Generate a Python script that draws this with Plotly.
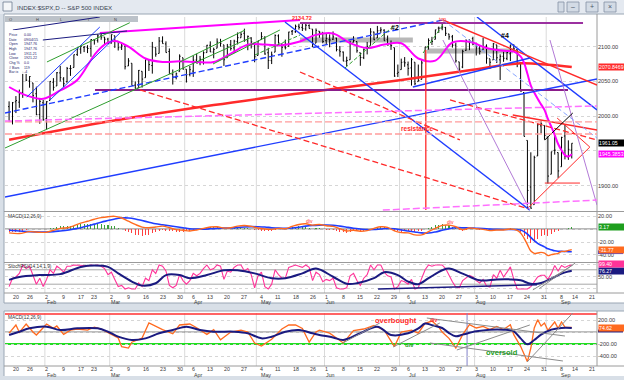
import plotly.graph_objects as go

# ======================= DATA =======================
trade_days = {
    1: [15, 16, 20, 21, 22, 23, 26, 27, 28, 29, 30],
    2: [2, 3, 4, 5, 6, 9, 10, 11, 12, 13, 17, 18, 19, 20, 23, 24, 25, 26, 27],
    3: [2, 3, 4, 5, 6, 9, 10, 11, 12, 13, 16, 17, 18, 19, 20, 23, 24, 25, 26, 27, 30, 31],
    4: [1, 2, 6, 7, 8, 9, 10, 13, 14, 15, 16, 17, 20, 21, 22, 23, 24, 27, 28, 29, 30],
    5: [1, 4, 5, 6, 7, 8, 11, 12, 13, 14, 15, 18, 19, 20, 21, 22, 26, 27, 28, 29],
    6: [1, 2, 3, 4, 5, 8, 9, 10, 11, 12, 15, 16, 17, 18, 19, 22, 23, 24, 25, 26, 29, 30],
    7: [1, 2, 6, 7, 8, 9, 10, 13, 14, 15, 16, 17, 20, 21, 22, 23, 24, 27, 28, 29, 30, 31],
    8: [3, 4, 5, 6, 7, 10, 11, 12, 13, 14, 17, 18, 19, 20, 21, 24, 25, 26, 27, 28, 31],
    9: [1, 2, 3, 4, 8, 9, 10, 11],
}
future_sep_days = [14, 15, 16, 17, 18, 21]

opens = [2013.75, 1992.25, 2020.76, 2020.19, 2034.30, 2062.98, 2050.42, 2047.86, 2032.34, 2002.45, 2019.35,
         1996.67, 2022.71, 2048.86, 2043.45, 2062.28, 2053.47, 2049.38, 2068.55, 2069.98, 2088.78, 2096.47, 2099.16, 2099.25, 2097.65, 2109.83, 2109.10, 2115.30, 2113.91, 2110.88,
         2105.23, 2115.76, 2107.72, 2098.54, 2100.91, 2072.25, 2076.14, 2044.69, 2041.10, 2064.56, 2055.35, 2080.59, 2072.84, 2098.69, 2090.32, 2107.99, 2103.94, 2093.10, 2059.94, 2055.78, 2064.11, 2084.05,
         2067.63, 2060.03, 2064.87, 2080.79, 2076.94, 2081.29, 2091.51, 2102.03, 2092.28, 2097.82, 2105.96, 2102.58, 2084.11, 2102.82, 2098.27, 2107.21, 2112.80, 2119.29, 2108.35, 2112.49, 2105.52,
         2087.38, 2110.23, 2112.63, 2091.26, 2079.96, 2092.13, 2115.56, 2102.87, 2099.62, 2100.43, 2122.07, 2121.30, 2129.45, 2127.79, 2125.55, 2130.36, 2125.34, 2105.13, 2122.27, 2120.66,
         2108.64, 2110.41, 2110.64, 2112.35, 2095.09, 2092.34, 2079.07, 2081.12, 2106.24, 2107.43, 2091.34, 2084.26, 2097.40, 2101.58, 2121.06, 2112.50, 2123.16, 2123.65, 2109.96, 2102.62, 2098.63, 2061.19,
         2067.00, 2078.03, 2073.95, 2069.52, 2077.66, 2049.73, 2052.74, 2080.03, 2099.72, 2109.21, 2110.55, 2126.80, 2126.85, 2127.55, 2118.21, 2114.16, 2102.24, 2078.19, 2070.75, 2094.70, 2106.78, 2111.60,
         2104.49, 2097.68, 2095.27, 2100.75, 2082.61, 2080.98, 2102.66, 2081.10, 2086.19, 2083.15, 2089.70, 2101.99, 2095.69, 2076.61, 2034.08, 1965.15, 1898.08, 1872.75, 1942.77, 1986.06, 1986.73,
         1970.09, 1916.52, 1950.79, 1947.76, 1927.30, 1971.45, 1941.59, 1951.45]
highs = [2021.35, 2020.46, 2028.94, 2038.29, 2064.62, 2062.98, 2057.62, 2047.86, 2042.49, 2024.64, 2023.32,
         2021.66, 2050.30, 2054.74, 2063.55, 2072.40, 2056.16, 2070.86, 2073.48, 2088.53, 2097.03, 2101.30, 2100.23, 2102.13, 2110.61, 2110.05, 2117.94, 2119.59, 2113.91, 2112.74,
         2117.52, 2115.76, 2107.72, 2104.25, 2100.91, 2083.49, 2076.14, 2050.08, 2066.41, 2064.56, 2081.41, 2080.59, 2106.85, 2098.69, 2113.92, 2114.86, 2107.63, 2097.43, 2067.15, 2062.83, 2088.97, 2084.05,
         2067.63, 2072.17, 2086.99, 2089.81, 2086.69, 2093.31, 2102.61, 2107.65, 2098.62, 2111.91, 2111.30, 2102.58, 2103.94, 2109.64, 2109.98, 2120.49, 2120.92, 2125.92, 2116.04, 2113.65, 2105.52,
         2108.41, 2120.95, 2115.24, 2098.42, 2092.90, 2117.66, 2117.69, 2105.06, 2110.19, 2121.45, 2123.89, 2131.78, 2133.02, 2134.72, 2134.28, 2132.15, 2125.34, 2126.22, 2122.27, 2120.66,
         2119.15, 2117.59, 2121.92, 2112.89, 2100.99, 2093.01, 2085.62, 2108.50, 2115.02, 2107.43, 2091.34, 2097.40, 2106.79, 2126.65, 2121.64, 2129.87, 2128.03, 2125.10, 2116.04, 2108.92, 2098.63, 2074.28,
         2082.78, 2085.06, 2078.61, 2083.74, 2077.66, 2074.28, 2081.31, 2099.88, 2111.98, 2114.14, 2124.42, 2128.91, 2132.82, 2128.49, 2118.51, 2116.87, 2106.01, 2078.19, 2095.60, 2110.60, 2110.48, 2114.24,
         2105.70, 2102.51, 2112.66, 2103.32, 2082.61, 2105.35, 2102.66, 2089.06, 2092.93, 2092.45, 2102.87, 2103.47, 2096.17, 2076.61, 2034.08, 1965.15, 1948.04, 1943.09, 1989.60, 1993.48, 1986.73,
         1970.09, 1948.91, 1975.01, 1947.76, 1970.42, 1988.63, 1965.29, 1961.05]
lows = [1991.47, 1988.12, 2004.49, 2012.04, 2026.38, 2050.54, 2040.97, 2019.91, 2001.49, 1989.18, 1993.38,
        1980.90, 2022.71, 2036.72, 2043.45, 2049.97, 2041.88, 2048.62, 2057.99, 2069.98, 2086.70, 2089.80, 2092.15, 2090.79, 2085.44, 2103.00, 2105.87, 2109.89, 2103.76, 2103.75,
        2104.50, 2098.26, 2094.49, 2095.22, 2067.27, 2072.21, 2044.16, 2039.69, 2041.10, 2041.17, 2055.35, 2065.08, 2061.23, 2085.56, 2090.32, 2104.42, 2091.50, 2061.05, 2045.50, 2052.96, 2064.11, 2067.04,
        2048.38, 2057.32, 2056.52, 2076.10, 2073.30, 2074.29, 2091.51, 2092.33, 2083.24, 2097.82, 2100.02, 2072.37, 2084.11, 2094.38, 2091.05, 2103.19, 2112.80, 2107.04, 2094.89, 2097.41, 2077.59,
        2087.38, 2110.23, 2088.46, 2067.93, 2074.99, 2092.13, 2104.58, 2085.57, 2096.04, 2100.43, 2116.81, 2120.01, 2124.50, 2122.59, 2122.95, 2126.06, 2099.18, 2105.13, 2112.86, 2104.89,
        2102.54, 2099.14, 2109.61, 2093.23, 2085.67, 2079.11, 2072.14, 2081.12, 2106.24, 2091.33, 2072.49, 2082.10, 2088.86, 2101.58, 2109.45, 2112.50, 2119.89, 2108.58, 2101.78, 2095.38, 2056.64, 2056.32,
        2067.00, 2071.02, 2058.40, 2044.02, 2044.66, 2049.73, 2052.74, 2080.03, 2095.78, 2102.49, 2110.55, 2119.88, 2123.66, 2115.40, 2110.00, 2098.63, 2077.09, 2063.52, 2069.09, 2094.08, 2094.97, 2102.07,
        2087.31, 2088.60, 2095.27, 2075.53, 2067.91, 2080.98, 2076.49, 2052.09, 2078.26, 2080.61, 2079.30, 2094.14, 2070.53, 2035.73, 1970.89, 1867.01, 1867.08, 1872.75, 1942.77, 1975.19, 1965.98,
        1903.07, 1916.52, 1944.72, 1911.21, 1927.30, 1937.88, 1937.19, 1939.19]
closes = [1992.67, 2019.42, 2022.55, 2032.12, 2063.15, 2051.82, 2057.09, 2029.55, 2002.16, 2021.25, 1994.99,
          2020.85, 2050.03, 2041.51, 2062.52, 2055.47, 2046.74, 2068.59, 2068.53, 2088.48, 2096.99, 2100.34, 2099.68, 2097.45, 2110.30, 2109.66, 2115.48, 2113.86, 2110.74, 2104.50,
          2117.39, 2107.78, 2098.53, 2101.04, 2071.26, 2079.43, 2044.16, 2040.24, 2065.95, 2053.40, 2081.19, 2074.28, 2099.50, 2089.27, 2108.10, 2104.42, 2091.50, 2061.05, 2056.15, 2061.02, 2086.24, 2067.89,
          2059.69, 2066.96, 2080.62, 2076.33, 2081.90, 2091.18, 2102.06, 2092.43, 2095.84, 2106.63, 2104.99, 2081.18, 2100.40, 2097.29, 2107.96, 2112.93, 2117.69, 2108.92, 2114.76, 2106.85, 2085.51,
          2108.29, 2114.49, 2089.46, 2080.15, 2088.00, 2116.10, 2105.33, 2099.12, 2098.48, 2121.10, 2122.73, 2129.20, 2127.83, 2125.85, 2130.82, 2126.06, 2104.20, 2123.48, 2120.79, 2107.39,
          2111.73, 2109.60, 2114.07, 2095.84, 2092.83, 2079.28, 2080.15, 2105.20, 2108.86, 2094.11, 2084.43, 2096.29, 2100.44, 2121.24, 2109.99, 2122.85, 2124.20, 2108.58, 2102.31, 2101.49, 2057.64, 2063.11,
          2077.42, 2076.78, 2068.76, 2081.34, 2046.68, 2051.31, 2076.62, 2099.60, 2108.95, 2107.40, 2124.29, 2126.64, 2128.28, 2119.21, 2114.15, 2102.15, 2079.65, 2067.64, 2093.25, 2108.57, 2108.63, 2103.84,
          2098.04, 2093.32, 2099.84, 2083.56, 2077.57, 2104.18, 2084.07, 2086.05, 2083.39, 2091.54, 2102.44, 2096.92, 2079.61, 2035.73, 1970.89, 1893.21, 1867.61, 1940.51, 1987.66, 1988.87, 1972.18,
          1913.85, 1948.86, 1951.13, 1921.22, 1969.41, 1942.04, 1952.29, 1961.05]

# magenta moving average and red long moving average
ma_fast_pos = [0, 5, 10, 15, 20, 25, 28, 31, 35, 40, 45, 50, 55, 60, 65, 70, 75, 80, 85, 90, 95, 100, 105, 110, 115, 120, 125, 130, 135, 140,
               145, 148, 150, 151, 152, 153, 154, 155, 156, 157, 158, 159, 160, 161, 162, 163, 164, 165]
ma_fast_val = [2042, 2030, 2025, 2037, 2052, 2088, 2103, 2108, 2100, 2083, 2078, 2079, 2078, 2078, 2090, 2103, 2103, 2102, 2107, 2117,
               2119, 2105, 2098, 2103, 2105, 2083, 2080, 2106, 2107, 2098, 2094, 2093, 2086, 2077, 2061, 2044, 2034, 2025, 2017, 2009,
               1996, 1985, 1973, 1960, 1951, 1944, 1942, 1945.39]
ma_slow_pos = [0, 30, 60, 90, 115, 135, 150, 158, 165]
ma_slow_val = [1966, 1993, 2016, 2036, 2052, 2066, 2076, 2074, 2070.85]

# MACD(12,26,9) panel
macd_pos = [0, 3, 6, 9, 11, 13, 15, 17, 19, 21, 23, 25, 27, 29, 31, 33, 35, 37, 39, 41, 43, 45, 47, 49, 51, 53, 55, 57, 59, 61, 63, 65, 67, 69, 71,
            73, 75, 77, 79, 81, 83, 85, 87, 89, 91, 93, 95, 97, 99, 101, 103, 105, 107, 109, 111, 113, 115, 117, 119, 121, 123, 125, 127, 129, 131,
            133, 135, 137, 139, 141, 143, 145, 147, 149, 150, 151, 152, 153, 154, 155, 156, 157, 158, 159, 160, 161, 162, 163, 164, 165]
macd_val = [-6, -7, -4, -5, -5, -2, 1, 2, 5, 9, 12, 15, 17.5, 19, 19.5, 17, 12, 7, 3, 2, 3, 4.5, 2, -1, -2, -3, -1.5, 1, 3, 3.5, 1.5, 2, 4.5, 5.5, 4,
            1.5, 0, -0.5, 1, 0.5, 4, 7, 8, 6, 7, 5, 4, 0.5, -3, -2, -3.5, -2.5, 1, 3.5, 2.5, -3, -5.5, -6, -9, -9, -4, 1, 5.5, 6, 3.5,
            -1, 1.5, 0.5, -0.5, -2.5, -1.5, -1.5, 0, -2, -6, -14, -24, -34, -37.5, -37, -36, -37, -41, -39.5, -38.5, -37.5, -34.5, -34.5, -33, -31.77]
signal_val = [-2, -3, -4, -4.5, -4.6, -4, -3, -2, 0, 2, 4.5, 7.5, 10.5, 13, 15.5, 17, 17, 15.5, 13, 10.5, 8, 6.5, 5, 3.5, 2, 0.5, 0, -0.2, 0.3, 1, 1.5, 1.6, 2.3, 3.2, 3.7,
              3.5, 3, 2, 1.3, 1, 1.5, 2.8, 4.5, 5.5, 6, 6.2, 5.8, 4.5, 2.8, 1.2, 0, -1, -0.8, 0, 0.8, 0.3, -1.5, -3, -4.5, -6, -6.2, -4.5, -2, 0.5, 2,
              2, 1.5, 1.2, 0.8, 0, -0.5, -0.8, -0.8, -1, -1.5, -4, -8, -13, -18, -22, -25, -27.5, -30.5, -32, -33.5, -34.3, -34.4, -34.6, -34.8, -34.94]
macd_hist = [-4, -4, -4, -4, -2.7, -1.3, 0, -0.2, -0.3, -0.5,
             -0.5, -0.4, 0.8, 2, 3, 4, 4, 4, 4.5, 5,
             6, 7, 7.2, 7.5, 7.5, 7.5, 7.2, 7, 6.5, 6,
             5, 4, 2, 0, -2.5, -5, -6.8, -8.5, -9.3, -10,
             -9.3, -8.5, -6.8, -5, -3.5, -2, -2.5, -3, -3.8, -4.5,
             -4.3, -4, -3.8, -3.5, -2.5, -1.5, 0, 1.2, 2, 2.7,
             2.6, 2.5, 1.2, 0, 0.2, 0.4, 1.3, 2.2, 2.3, 2.3,
             1.3, 0.3, -0.8, -2, -2.5, -3, -2.8, -2.5, -1.4, -0.3,
             -0.4, -0.5, 1, 2.5, 3.4, 4.2, 3.8, 3.5, 2, 0.5,
             0.8, 1, 0, -1.2, -1.5, -1.8, -2.9, -4, -4.9, -5.8,
             -4.5, -3.2, -3.3, -3.5, -2.5, -1.5, 0.2, 1.8, 2.6, 3.5,
             2.6, 1.7, -0.8, -3.3, -3.7, -4, -3.5, -3, -3.8, -4.5,
             -3.8, -3, -0.4, 2.2, 3.8, 5.5, 6.5, 7.5, 6.5, 5.5,
             3.5, 1.5, -0.8, -3, -1.5, 0, -0.4, -0.7, -1, -1.3,
             -1.9, -2.5, -1.8, -1, -0.9, -0.7, 0, 0.8, -0.1, -1,
             -4.5, -10, -16, -21, -19.5, -15, -11, -9.5, -10.5, -7.5,
             -5, -3.2, -0.5, 0.4, 1.8, 3.17]

# StochRSI(14,14,1,9) panel
stoch_k = [10, 45, 50, 65, 100, 85, 95, 60, 20, 45,
           10, 40, 80, 65, 95, 85, 70, 95, 95, 100,
           100, 100, 98, 95, 100, 98, 100, 95, 85, 60,
           70, 40, 10, 15, 0, 5, 0, 0, 25, 10,
           45, 35, 80, 65, 100, 95, 75, 15, 5, 15,
           60, 35, 20, 35, 65, 55, 65, 85, 100, 80,
           85, 100, 95, 40, 75, 70, 90, 100, 100, 75,
           85, 60, 5, 55, 70, 10, 0, 20, 80, 60,
           45, 45, 90, 95, 100, 95, 90, 100, 90, 35,
           70, 60, 30, 40, 35, 45, 5, 0, 0, 5,
           55, 65, 35, 15, 45, 60, 100, 80, 100, 100,
           70, 55, 50, 0, 10, 35, 30, 20, 40, 0,
           5, 45, 80, 100, 95, 100, 100, 100, 85, 57,
           30, 8, 5, 35, 45, 57, 50, 35, 25, 40,
           12, 8, 60, 45, 78, 50, 70, 92, 40, 0,
           0, 0, 0, 10, 30, 50, 57, 57, 40, 64,
           98, 75, 98, 90, 97, 99.4]
stoch_d_pos = [0, 3, 9, 15, 21, 25, 29, 32, 36, 39, 43, 46, 50, 53, 58, 63, 67, 72, 77, 81, 86, 90, 95, 99, 102, 107,
               110, 114, 117, 120, 123, 127, 129, 133, 138, 143, 147, 150, 153, 156, 159, 162, 164, 165]
stoch_d_val = [38, 50, 58, 62, 92, 98, 92, 65, 31, 14, 24, 58, 58, 45, 58, 78, 78, 65, 45, 45, 65, 85, 51, 22, 24, 45,
               70, 58, 31, 20, 45, 78, 85, 64, 36, 40, 40, 36, 22, 25, 43, 64, 73, 76.27]

# lower window oscillator
osc_pos = [0, 2, 3, 5, 7, 8, 10, 11, 13, 14, 16, 18, 20, 23, 25, 27, 30, 32, 33, 35, 36, 39, 41, 43, 45, 48, 50, 53, 55, 58,
           60, 62, 65, 68, 70, 72, 74, 77, 79, 80, 82, 84, 86, 88, 90, 91, 94, 98, 101, 104, 107, 110, 113, 115, 118, 120,
           122, 124, 126, 127, 129, 131, 133, 135, 137, 139, 141, 143, 145, 147, 148, 150, 152, 153, 154, 155, 156, 157,
           158, 160, 161, 162, 163, 165]
osc_val = [-20, 117, -5, 133, 0, -50, 70, 133, 60, 100, -40, 30, 50, 30, 80, 50, -40, -100, -244, -267, -170, -100, 150, 90,
           40, -30, 117, 133, 70, -40, 40, -130, 0, 30, 0, -183, -233, -120, 0, 50, 117, 117, 60, -170, 0, 30, -20, -183, 22,
           50, 111, 30, -244, 0, 30, -20, 144, 183, 83, 0, -106, -267, -44, 122, 67, 94, 40, 94, 40, 122, -44, -239, -494,
           -267, 67, 206, 100, 150, 28, 167, 60, 167, 80, 74.62]
osc_sig_pos = [0, 3, 6, 11, 15, 20, 26, 29, 32, 36, 40, 44, 48, 52, 56, 60, 66, 70, 74, 77, 81, 85, 89, 91, 95, 98, 103, 108,
               112, 117, 120, 122, 124, 127, 129, 131, 133, 137, 141, 145, 148, 150, 152, 154, 156, 159, 162, 165]
osc_sig_val = [-50, 5, 61, 89, 33, 61, 61, 5, -78, -133, -106, -22, 33, 89, 33, 5, 5, -22, -106, -78, 5, 33, -22, -50, -90,
               -133, -20, 89, -50, -22, 60, 140, 115, 67, -17, -72, -44, 11, 39, 39, 11, -106, -206, -133, -44, 39, 67, 67]

# date axis labels
tick_dates = ['2015-01-20', '2015-01-26', '2015-02-02', '2015-02-09', '2015-02-17', '2015-02-23', '2015-03-02', '2015-03-09',
              '2015-03-16', '2015-03-23', '2015-03-30', '2015-04-06', '2015-04-13', '2015-04-20', '2015-04-27', '2015-05-04',
              '2015-05-11', '2015-05-18', '2015-05-26', '2015-06-01', '2015-06-08', '2015-06-15', '2015-06-22', '2015-06-29',
              '2015-07-06', '2015-07-13', '2015-07-20', '2015-07-27', '2015-08-03', '2015-08-10', '2015-08-17', '2015-08-24',
              '2015-08-31', '2015-09-08', '2015-09-14', '2015-09-21']
month_label_dates = ['2015-02-02', '2015-03-02', '2015-04-06', '2015-05-04', '2015-06-01', '2015-07-06', '2015-08-03', '2015-09-08']
month_names = ['Feb', 'Mar', 'Apr', 'May', 'Jun', 'Jul', 'Aug', 'Sep']
month_first_dates = ['2015-02-02', '2015-03-02', '2015-04-01', '2015-05-01', '2015-06-01', '2015-07-01', '2015-08-03', '2015-09-01']

price_ticks = [1900, 1950, 2000, 2050, 2100]
macd_ticks = [-40, -20, 0, 20]
stoch_ticks = [0, 50, 100]
osc_ticks = [-400, -200, 0, 200]
hidden_ticks = [1950, 0, 100]   # covered by the value boxes on the axis

# analyst drawn lines: [pos0, value0, pos1, value1]
price_lines = [
    [26.6, 2119.7, 85.3, 2138.4], [85.3, 2134.1, 168.3, 2134.1], [25.2, 2037.7, 163.9, 2037.7],
    [-1.2, 1883.7, 172.4, 2053.5], [80.9, 2135.5, 152.7, 1864.9], [137.2, 2142.7, 172.4, 2008.9],
    [118.4, 2042.0, 152.7, 2083.7], [-1.2, 2004.6, 127.2, 2138.4], [5.2, 2027.6, 26.6, 2128.3],
    [12.0, 2023.3, 32.5, 2119.7], [1.1, 2124.0, 26.6, 2142.7], [9.9, 2109.6, 34.6, 2122.6],
    [-1.2, 1954.2, 70.6, 2112.5], [11.1, 2078.0, 35.4, 2134.5], [50.1, 2078.0, 69.2, 2124.0],
    [59.8, 2075.1, 79.4, 2124.0], [98.5, 2069.4, 113.1, 2131.2], [121.4, 2090.9, 127.2, 2131.2],
    [72.1, 2088.1, 85.3, 2116.8], [38.4, 2037.7, 152.0, 1867.0], [85.3, 2063.6, 132.2, 1965.8],
    [129.3, 2023.3, 172.4, 1965.8], [127.2, 2138.4, 172.4, 2044.8], [147.7, 2001.7, 172.4, 1980.1],
    [152.0, 1867.0, 170.3, 1955.6], [160.7, 1997.4, 170.3, 1955.6], [157.1, 1903.8, 167.4, 1903.8],
    [127.2, 2109.6, 152.7, 1864.9], [158.6, 2109.6, 172.4, 1872.1], [127.2, 2138.4, 172.4, 1968.6],
    [122.2, 2095.3, 122.2, 1864.9], [157.1, 1965.8, 165.3, 2004.6], [-1.2, 1991.7, 172.4, 1991.7],
    [-1.2, 1974.4, 172.4, 1974.4], [-1.2, 1993.0, 172.4, 2014.7], [109.6, 1864.9, 172.4, 1879.3],
]
price_bands = [[85.3, 2109.6, 118.4, 2109.6], [122.5, 2093.8, 147.7, 2093.8]]
stoch_lines = [[108.2, 0, 154.8, 18], [153.6, -4, 165.3, 100], [155.5, 2, 166.0, 108]]
osc_lines = [[122.5, 233, 163.0, -67], [123.4, -183, 162.4, -483], [151.9, -500, 165.3, 317],
             [131.3, -300, 152.7, 117], [97.9, -183, 108.7, 150], [112.6, -250, 126.3, 150]]
osc_levels = [300, 0, -200]
stoch_levels = [80, 20]
osc_marker_pos = 134.3

price_notes = [(86.0, 2141.0, '2134.72'), (113.1, 2126.9, '#2'), (127.2, 2140.5, 'top'),
               (145.4, 2115.4, '#4'), (119.9, 1981.6, 'resistance')]
macd_notes = [(88.2, 12.3, 'div'), (129.3, 10.8, 'div')]
osc_notes = [(113.5, 185, 'overbought'), (124.5, 205, 'div'), (117.5, -217, 'div'), (144.5, -335, 'oversold')]

legend_labels = ['Price', 'Date', 'Open', 'High', 'Low', 'Close', 'Chg %', '# Bars', 'Bar ix']
legend_values = ['0.00', '09/04/15', '1947.76', '1947.76', '1911.21', '1921.22', '0.0', '119', '-4']

# ======================= BUILD =======================
dates = [f"2015-{m:02d}-{d:02d}" for m in range(1, 10) for d in trade_days[m]]
all_dates = dates + [f"2015-09-{d:02d}" for d in future_sep_days]
pos_of = {d: i for i, d in enumerate(all_dates)}
bar_x = [pos_of[d] for d in dates]

W, H = 624, 380
def fx(p): return p / W
def fy(p): return 1 - p / H

XR = [-1.2, 172.4]
XDOM = [fx(5), fx(597)]
RED, MAG, BLUE, NAVY, GREEN = '#ff2a2a', '#ff00ff', '#1f3dff', '#1a1a80', '#2e9e2e'
ORANGE = '#ff6a1f'
SANS = 'Liberation Sans'

fig = go.Figure()
fig.add_trace(go.Ohlc(x=bar_x, open=opens, high=highs, low=lows, close=closes,
                      increasing=dict(line=dict(color='black', width=1)),
                      decreasing=dict(line=dict(color='black', width=1)),
                      tickwidth=0.3, xaxis='x', yaxis='y', hoverinfo='skip'))
fig.add_trace(go.Scatter(x=ma_slow_pos, y=ma_slow_val, mode='lines', line=dict(color=RED, width=2.5, shape='spline'),
                         xaxis='x', yaxis='y', hoverinfo='skip'))
fig.add_trace(go.Scatter(x=ma_fast_pos, y=ma_fast_val, mode='lines', line=dict(color=MAG, width=2, shape='spline'),
                         xaxis='x', yaxis='y', hoverinfo='skip'))

fig.add_trace(go.Bar(x=bar_x, y=macd_hist, width=0.3,
                     marker=dict(color=['#3aa03a' if v >= 0 else '#ff4040' for v in macd_hist], line=dict(width=0)),
                     xaxis='x2', yaxis='y2', hoverinfo='skip'))
fig.add_trace(go.Scatter(x=macd_pos, y=signal_val, mode='lines', line=dict(color=BLUE, width=1.6, shape='spline'),
                         xaxis='x2', yaxis='y2', hoverinfo='skip'))
fig.add_trace(go.Scatter(x=macd_pos, y=macd_val, mode='lines', line=dict(color=ORANGE, width=1.4, shape='spline'),
                         xaxis='x2', yaxis='y2', hoverinfo='skip'))

fig.add_trace(go.Scatter(x=bar_x, y=stoch_k, mode='lines', line=dict(color='#ff3399', width=1.1),
                         xaxis='x3', yaxis='y3', hoverinfo='skip'))
fig.add_trace(go.Scatter(x=stoch_d_pos, y=stoch_d_val, mode='lines', line=dict(color=NAVY, width=2, shape='spline'),
                         xaxis='x3', yaxis='y3', hoverinfo='skip'))

fig.add_trace(go.Scatter(x=osc_pos, y=osc_val, mode='lines', line=dict(color=ORANGE, width=1.3),
                         xaxis='x4', yaxis='y4', hoverinfo='skip'))
fig.add_trace(go.Scatter(x=osc_sig_pos, y=osc_sig_val, mode='lines', line=dict(color=NAVY, width=2, shape='spline'),
                         xaxis='x4', yaxis='y4', hoverinfo='skip'))

# ---------------- axes ----------------
axfont = dict(family=SANS, size=5.6, color='#3a3a3a')
xcommon = dict(range=XR, domain=XDOM, showgrid=False, zeroline=False, showline=False, fixedrange=True,
               showticklabels=False, ticks='')
fig.update_layout(
    xaxis=dict(xcommon, anchor='y', rangeslider=dict(visible=False)),
    xaxis2=dict(xcommon, anchor='y2'),
    xaxis3=dict(xcommon, anchor='y3'),
    xaxis4=dict(xcommon, anchor='y4'),
)
def yax(dom, rng, ticks, anchor):
    return dict(domain=dom, range=rng, side='right', anchor=anchor, tickvals=ticks,
                ticktext=['' if t in hidden_ticks else f"{t:.2f}" for t in ticks], tickfont=axfont, showgrid=True,
                gridcolor='#d6d6d6', griddash='dot', gridwidth=1, zeroline=False, showline=False,
                ticks='', fixedrange=True)
fig.update_layout(
    yaxis=yax([fy(211), fy(17)], [1863.6, 2142.7], price_ticks, 'x'),
    yaxis2=yax([fy(262), fy(212)], [-50.8, 26.2], macd_ticks, 'x2'),
    yaxis3=yax([fy(293), fy(263)], [-16.7, 108.3], stoch_ticks, 'x3'),
    yaxis4=yax([fy(366), fy(313)], [-566.7, 316.7], osc_ticks, 'x4'),
)

# ---------------- shapes ----------------
shapes = []
def prect(x0, y0, x1, y1, fill, line=None, layer='below', opacity=1):
    shapes.append(dict(type='rect', xref='paper', yref='paper', x0=fx(x0), x1=fx(x1), y0=fy(y1), y1=fy(y0),
                       fillcolor=fill, line=dict(width=0 if line is None else 0.8, color=line or fill),
                       layer=layer, opacity=opacity))
def pline(x0, y0, x1, y1, color, width=1, layer='above'):
    shapes.append(dict(type='line', xref='paper', yref='paper', x0=fx(x0), x1=fx(x1), y0=fy(y0), y1=fy(y1),
                       line=dict(color=color, width=width), layer=layer))

# window chrome
prect(0, 0, 624, 14, '#e4e9f0')
prect(3, 2, 12, 11, '#f4f6f8', '#6d7c8f')
prect(4, 14, 624, 303, 'white')
prect(4, 311, 624, 376, 'white')
for bx in (558, 567, 586, 604):
    prect(bx, 2, bx + 12 if bx > 558 else bx + 6, 12, '#d3dbe5', '#8391a3', layer='above')
pline(4, 14, 624, 14, '#9aa6b4')
pline(4, 303, 624, 303, '#9aa6b4')
pline(4, 311, 624, 311, '#9aa6b4')
pline(4, 14, 4, 303, '#9aa6b4')
pline(4, 311, 4, 376, '#9aa6b4')
for yy in (211.5, 262.5, 293):
    pline(4, yy, 624, yy, '#9a9a9a', 1)
pline(4, 366, 624, 366, '#9a9a9a', 1)
pline(597, 14, 597, 293, '#9a9a9a', 1)
pline(597, 311, 597, 366, '#9a9a9a', 1)
prect(5, 16, 138, 22, '#bcc2c9', layer='above')

# month separators in all panels
for d in month_first_dates:
    xm = pos_of[d] - 0.5
    for xr, yr in (('x', 'y'), ('x2', 'y2'), ('x3', 'y3'), ('x4', 'y4')):
        shapes.append(dict(type='line', xref=xr, yref=yr + ' domain', x0=xm, x1=xm, y0=0, y1=1,
                           line=dict(color='#dadada', width=1), layer='below'))

# price panel drawn lines
price_line_styles = [
    (MAG, 2, 'solid'), ('#9b30a0', 2, 'solid'), ('#8b1c8b', 2, 'solid'),
    (BLUE, 1.4, 'solid'), (BLUE, 1.4, 'solid'), (BLUE, 1.4, 'solid'),
    (BLUE, 1.4, 'solid'), (BLUE, 1.4, '6px,3px'), (BLUE, 1, 'solid'),
    (BLUE, 1, 'solid'), (NAVY, 1, 'solid'), (NAVY, 1, 'solid'),
    (GREEN, 1, 'solid'), (GREEN, 1, 'solid'), (GREEN, 1, 'solid'),
    (GREEN, 1, 'solid'), (GREEN, 1, '4px,2px'), (GREEN, 1, '4px,2px'),
    (GREEN, 1, '4px,2px'), (RED, 1.3, '6px,3px'), (RED, 1.3, '6px,3px'),
    (RED, 1.3, '6px,3px'), (RED, 1.4, 'solid'), (RED, 1.4, 'solid'),
    (RED, 1, 'solid'), (RED, 1, 'solid'), (RED, 1, 'solid'),
    ('#b27ad6', 1, 'solid'), ('#b27ad6', 1, 'solid'), ('#86a4ff', 1, '5px,3px'),
    (RED, 1.3, 'solid'), ('black', 1, 'solid'), ('#ff9c9c', 1.3, '7px,3px'),
    ('#ff9c9c', 1.3, '7px,3px'), ('#ff70ff', 1.5, '7px,3px'), ('#ff70ff', 1.5, '7px,3px'),
]
for (x0, y0, x1, y1) in price_bands:
    shapes.append(dict(type='line', xref='x', yref='y', x0=x0, y0=y0, x1=x1, y1=y1,
                       line=dict(color='#b8b8b8', width=5), layer='below'))
for (x0, y0, x1, y1), (c, w, d) in zip(price_lines, price_line_styles):
    shapes.append(dict(type='line', xref='x', yref='y', x0=x0, y0=y0, x1=x1, y1=y1,
                       line=dict(color=c, width=w, dash=d)))

# macd zero line
shapes.append(dict(type='line', xref='x2 domain', yref='y2', x0=0, x1=1, y0=0, y1=0,
                   line=dict(color='#707070', width=1), layer='below'))
# stoch levels and lines
for lv in stoch_levels:
    shapes.append(dict(type='line', xref='x3 domain', yref='y3', x0=0, x1=1, y0=lv, y1=lv,
                       line=dict(color='#a8a8a8', width=1), layer='below'))
stoch_line_styles = [(NAVY, 1.5), ('#8c8c8c', 1), ('#8c8c8c', 1)]
for (x0, y0, x1, y1), (c, w) in zip(stoch_lines, stoch_line_styles):
    shapes.append(dict(type='line', xref='x3', yref='y3', x0=x0, y0=y0, x1=x1, y1=y1, line=dict(color=c, width=w)))
# lower window
osc_level_styles = [('#ff3030', 1.5), ('#7a7a7a', 1), ('#22dd22', 2)]
for lv, (c, w) in zip(osc_levels, osc_level_styles):
    shapes.append(dict(type='line', xref='x4 domain', yref='y4', x0=0, x1=1, y0=lv, y1=lv,
                       line=dict(color=c, width=w), layer='below'))
shapes.append(dict(type='line', xref='x4', yref='y4 domain', x0=osc_marker_pos, x1=osc_marker_pos, y0=0, y1=1,
                   line=dict(color='#8080c8', width=1), layer='below'))
for (x0, y0, x1, y1) in osc_lines:
    shapes.append(dict(type='line', xref='x4', yref='y4', x0=x0, y0=y0, x1=x1, y1=y1,
                       line=dict(color='#8c8c8c', width=1)))

# signal-line value strips peeking from under the value boxes
shapes.append(dict(type='rect', xref='paper', yref='y2', x0=fx(598), x1=fx(623), y0=-38.6, y1=-33,
                   fillcolor=BLUE, line=dict(width=0), layer='above'))
shapes.append(dict(type='rect', xref='paper', yref='y4', x0=fx(598), x1=fx(623), y0=-8, y1=40,
                   fillcolor=NAVY, line=dict(width=0), layer='above'))

# legend box
prect(5, 30, 42, 74, 'white', layer='above', opacity=0.9)
fig.update_layout(shapes=shapes)

# ---------------- annotations ----------------
ann = []
def ptext(x, y, text, size=5, color='#1a1a5a', anchor='left', bold=False, family=SANS, yanchor='middle'):
    ann.append(dict(xref='paper', yref='paper', x=fx(x), y=fy(y), text=f"<b>{text}</b>" if bold else text,
                    showarrow=False, xanchor=anchor, yanchor=yanchor, align='left',
                    font=dict(size=size, color=color, family=family)))

ptext(15, 7.5, 'INDEX:$SPX,D -- S&P 500 INDEX', size=6.2, color='#3c4654')
for bx, g in ((573, '–'), (592, '+'), (610, '×')):
    ptext(bx, 7, g, size=7, color='#4a5566', anchor='center')
for tx, g in ((10, 'O'), (37, 'H'), (62, 'L'), (88, 'I'), (115, 'N')):
    ptext(tx, 19, g, size=4, color='#444', anchor='center')

ptext(6.5, 31.5, '<br>'.join(legend_labels), size=3.6, color='#1a1a6a', yanchor='top')
ptext(21.5, 31.5, '<br>'.join(legend_values), size=3.6, color='#1a1a6a', yanchor='top')

ptext(6, 216, 'MACD(12,26,9)', size=4.8, color='#333')
ptext(6, 266, 'StochRSI(14,14,1,9)', size=4.8, color='#333')
ptext(6, 317, 'MACD(12,26,9)', size=4.8, color='#333')

note_styles = [(RED, 5.5, True), ('black', 7, True), (RED, 5, False), ('black', 7, True), (RED, 6.5, True)]
for (x, y, t), (c, s, b) in zip(price_notes, note_styles):
    ann.append(dict(xref='x', yref='y', x=x, y=y, text=f"<b>{t}</b>" if b else t, showarrow=False,
                    font=dict(size=s, color=c, family=SANS)))
for (x, y, t) in macd_notes:
    ann.append(dict(xref='x2', yref='y2', x=x, y=y, text=t, showarrow=False,
                    font=dict(size=5, color=RED, family=SANS)))
osc_note_styles = [(RED, 7.5), (RED, 5), ('#1f9e1f', 6), ('#1f9e1f', 7.5)]
for (x, y, t), (c, s) in zip(osc_notes, osc_note_styles):
    ann.append(dict(xref='x4', yref='y4', x=x, y=y, text=f"<b>{t}</b>", showarrow=False,
                    font=dict(size=s, color=c, family=SANS)))

# value boxes on the right axis
value_boxes = [
    ('y', ma_slow_val[-1], '2070.8469', '#ff2a2a'),
    ('y', closes[-1], f"{closes[-1]:.2f}", '#000000'),
    ('y', ma_fast_val[-1], '1945.3853', '#ff00ff'),
    ('y2', macd_val[-1], f"{macd_val[-1]:.2f}", ORANGE),
    ('y2', macd_hist[-1], f"{macd_hist[-1]:.2f}", '#1e9e1e'),
    ('y3', 73.5, f"{stoch_d_val[-1]:.2f}", NAVY),
    ('y3', 102.5, f"{stoch_k[-1]:.2f}", '#ff3399'),
    ('y4', osc_val[-1], f"{osc_val[-1]:.2f}", ORANGE),
]
for yr, v, t, bg in value_boxes:
    ann.append(dict(xref='paper', yref=yr, x=fx(598), y=v, text=t, showarrow=False, xanchor='left',
                    yanchor='middle', bgcolor=bg, width=25, align='left', borderpad=0,
                    font=dict(size=5.2, color='white', family=SANS)))

# date labels (days + month names) under both windows
for d in tick_dates:
    for xr, yy in (('x3', 296.5), ('x4', 369)):
        ann.append(dict(xref=xr, yref='paper', x=pos_of[d], y=fy(yy), text=str(int(d[8:])), showarrow=False,
                        yanchor='middle', font=dict(size=5.3, color='#3a3a3a', family=SANS)))
for d, m in zip(month_label_dates, month_names):
    for xr, yy in (('x3', 302.2), ('x4', 374.7)):
        ann.append(dict(xref=xr, yref='paper', x=pos_of[d] + 1.3, y=fy(yy), text=m, showarrow=False,
                        yanchor='middle', font=dict(size=5.3, color='#3a3a3a', family=SANS)))

fig.update_layout(annotations=ann)
fig.update_layout(width=W, height=H, margin=dict(l=0, r=0, t=0, b=0),
                  paper_bgcolor='#d8dfe7', plot_bgcolor='white', showlegend=False, bargap=0,
                  font=dict(family=SANS, size=6, color='#333'))
fig.write_html("out.html", config={'displayModeBar': False, 'staticPlot': True},
               post_script="document.body.style.margin='0px';document.body.style.overflow='hidden';")
